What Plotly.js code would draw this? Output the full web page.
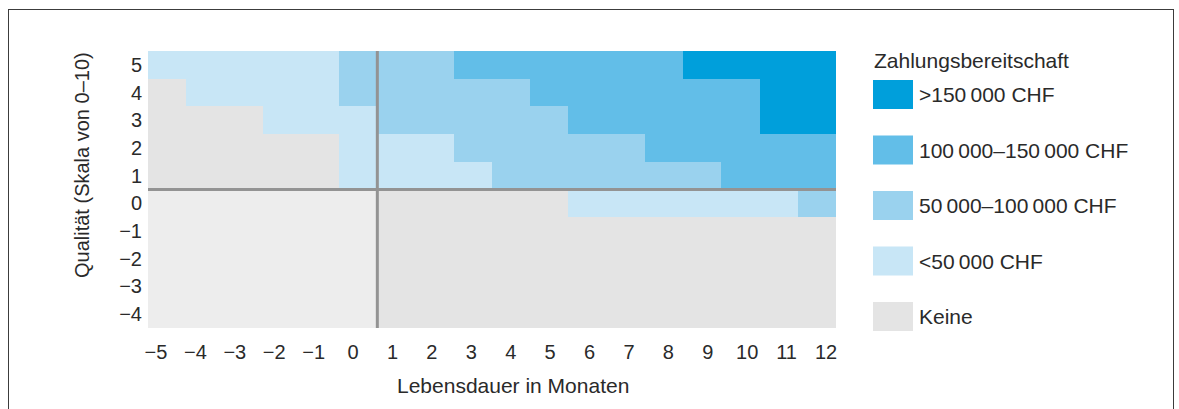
<!DOCTYPE html>
<html>
<head>
<meta charset="utf-8">
<script src="https://cdn.plot.ly/plotly-3.0.1.min.js"></script>
<style>
html,body{margin:0;padding:0;background:#fff;}
#chart{position:absolute;left:0;top:0;width:1179px;height:409px;}
#frame{position:absolute;left:8px;top:9px;width:1164px;height:420px;border:1.5px solid #3c3c3c;border-bottom:none;pointer-events:none;}
</style>
</head>
<body>
<div id="chart"></div>
<div id="frame"></div>
<script>
// Axes
const months = [-5, -4, -3, -2, -1, 0, 1, 2, 3, 4, 5, 6, 7, 8, 9, 10, 11, 12];
const quality = [5, 4, 3, 2, 1, 0, -1, -2, -3, -4];

// Categories: -1 = Keine (lower-left, lighter shade), 0 = Keine, 1 = <50 000, 2 = 50 000–100 000, 3 = 100 000–150 000, 4 = >150 000
const row_q5  = [1, 1, 1, 1, 1, 2, 2, 2, 3, 3, 3, 3, 3, 3, 4, 4, 4, 4];
const row_q4  = [0, 1, 1, 1, 1, 2, 2, 2, 2, 2, 3, 3, 3, 3, 3, 3, 4, 4];
const row_q3  = [0, 0, 0, 1, 1, 1, 2, 2, 2, 2, 2, 3, 3, 3, 3, 3, 4, 4];
const row_q2  = [0, 0, 0, 0, 0, 1, 1, 1, 2, 2, 2, 2, 2, 3, 3, 3, 3, 3];
const row_q1  = [0, 0, 0, 0, 0, 1, 1, 1, 1, 2, 2, 2, 2, 2, 2, 3, 3, 3];
const row_q0  = [-1, -1, -1, -1, -1, -1, 0, 0, 0, 0, 0, 1, 1, 1, 1, 1, 1, 2];
const row_qm1 = [-1, -1, -1, -1, -1, -1, 0, 0, 0, 0, 0, 0, 0, 0, 0, 0, 0, 0];
const row_qm2 = [-1, -1, -1, -1, -1, -1, 0, 0, 0, 0, 0, 0, 0, 0, 0, 0, 0, 0];
const row_qm3 = [-1, -1, -1, -1, -1, -1, 0, 0, 0, 0, 0, 0, 0, 0, 0, 0, 0, 0];
const row_qm4 = [-1, -1, -1, -1, -1, -1, 0, 0, 0, 0, 0, 0, 0, 0, 0, 0, 0, 0];

const legendTitle = 'Zahlungsbereitschaft';
const legendLabels = ['>150\u2009000 CHF', '100\u2009000\u2013150\u2009000 CHF', '50\u2009000\u2013100\u2009000 CHF', '<50\u2009000 CHF', 'Keine'];
const legendCodes = [4, 3, 2, 1, 0];

const xTitle = 'Lebensdauer in Monaten';
const yTitle = 'Qualit\u00e4t (Skala von 0\u201310)';

// Dividers (axis boundaries between 0 and 1)
const xDivider = 0.5;
const yDivider = 0.5;

// Styles
const colors = {'-1': '#ededed', '0': '#e4e4e4', '1': '#c8e6f6', '2': '#9ad2ee', '3': '#62bee8', '4': '#009fdb'};
const textColor = '#2a2a2a';
const FONT = '"Liberation Sans", Arial, Helvetica, sans-serif';

const rowsTopDown = [row_q5, row_q4, row_q3, row_q2, row_q1, row_q0, row_qm1, row_qm2, row_qm3, row_qm4];

const zmin = -1, zmax = 4, n = zmax - zmin + 1;
const colorscale = [];
for (let v = zmin; v <= zmax; v++) {
  const i = v - zmin;
  const a = i === 0 ? 0 : (i - 0.5) / (n - 1);
  const b = i === n - 1 ? 1 : (i + 0.5) / (n - 1);
  colorscale.push([a, colors[String(v)]]);
  colorscale.push([b, colors[String(v)]]);
}

const W = 1179, H = 409;
const M = {l: 148, r: 343, t: 51, b: 81};
const pw = W - M.l - M.r, ph = H - M.t - M.b;
const px = x => (x - M.l) / pw;
const py = y => (H - M.b - y) / ph;

const fmt = v => (v < 0 ? '\u2212' + Math.abs(v) : String(v));

const trace = {
  type: 'heatmap',
  x: months,
  y: quality,
  z: rowsTopDown,
  zmin: zmin, zmax: zmax,
  colorscale: colorscale,
  showscale: false,
  hoverinfo: 'skip'
};

// invisible trace carrying the label axis (the original spreads its month labels slightly wider than the cells)
const labelTrace = {
  type: 'scatter', mode: 'markers', x: months, y: months.map(() => quality[0]),
  xaxis: 'x2', yaxis: 'y', marker: {opacity: 0}, hoverinfo: 'skip', showlegend: false
};

const shapes = [
  {type: 'line', xref: 'x', yref: 'paper', x0: xDivider, x1: xDivider, y0: 0, y1: 1, line: {color: '#939393', width: 3}},
  {type: 'line', xref: 'paper', yref: 'y', x0: 0, x1: 1, y0: yDivider, y1: yDivider, line: {color: '#939393', width: 3}}
];

const annotations = [
  {text: xTitle, xref: 'paper', yref: 'paper', x: px(513), y: py(385), xanchor: 'center', yanchor: 'middle', showarrow: false, font: {family: FONT, size: 21, color: textColor}},
  {text: yTitle, xref: 'paper', yref: 'paper', x: px(82), y: py(165), xanchor: 'center', yanchor: 'middle', textangle: -90, showarrow: false, font: {family: FONT, size: 20, color: textColor}},
  {text: legendTitle, xref: 'paper', yref: 'paper', x: px(872), y: py(61), xanchor: 'left', yanchor: 'middle', showarrow: false, font: {family: FONT, size: 21, color: textColor}}
];

const swTop0 = 80, swStep = 55.5, swH = 29;
legendLabels.forEach((lab, i) => {
  const top = swTop0 + i * swStep;
  shapes.push({type: 'rect', xref: 'paper', yref: 'paper', x0: px(873), x1: px(913), y0: py(top + swH), y1: py(top), fillcolor: colors[String(legendCodes[i])], line: {width: 0}});
  annotations.push({text: lab, xref: 'paper', yref: 'paper', x: px(917), y: py(top + swH / 2), xanchor: 'left', yanchor: 'middle', showarrow: false, font: {family: FONT, size: 21, color: textColor}});
});

// label axis range: first label at 156 px, last at 826 px
const lblStep = (826 - 156) / (months.length - 1);
const x2range = [months[0] - (156 - M.l) / lblStep, months[months.length - 1] + (M.l + pw - 826) / lblStep];

const layout = {
  width: W, height: H,
  margin: M,
  paper_bgcolor: '#fff', plot_bgcolor: '#fff',
  showlegend: false,
  font: {family: FONT, color: textColor},
  xaxis: {
    range: [months[0] - 0.5, months[months.length - 1] + 0.5],
    showticklabels: false,
    showgrid: false, zeroline: false, showline: false, ticks: '',
    fixedrange: true
  },
  xaxis2: {
    overlaying: 'x', anchor: 'y', side: 'bottom',
    range: x2range,
    tickmode: 'array', tickvals: months, ticktext: months.map(fmt),
    showgrid: false, zeroline: false, showline: false,
    ticks: '', ticklabelstandoff: 10,
    tickfont: {family: FONT, size: 20, color: textColor},
    fixedrange: true
  },
  yaxis: {
    range: [quality[quality.length - 1] - 0.5, quality[0] + 0.5],
    tickmode: 'array', tickvals: quality, ticktext: quality.map(fmt),
    showgrid: false, zeroline: false, showline: false,
    ticks: '', ticklabelstandoff: 5,
    tickfont: {family: FONT, size: 20, color: textColor},
    fixedrange: true
  },
  shapes: shapes,
  annotations: annotations
};

Plotly.newPlot('chart', [trace, labelTrace], layout, {displayModeBar: false, staticPlot: true});
</script>
</body>
</html>
